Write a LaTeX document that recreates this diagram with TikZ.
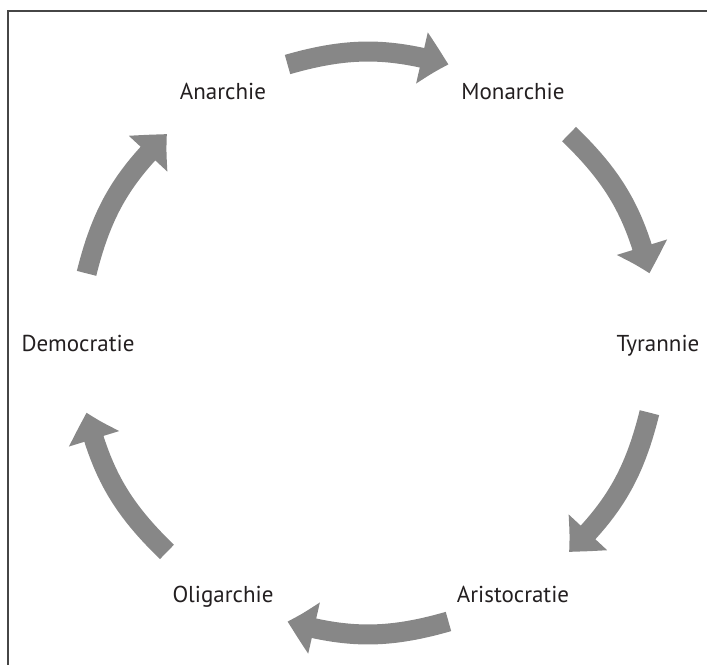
\documentclass[tikz,border=0pt]{standalone}
\usepackage{fontspec}
\setmainfont{PT Sans}
\usetikzlibrary{arrows.meta, bending}
\definecolor{cyclegray}{RGB}{135,135,135}
\definecolor{textgray}{RGB}{35,31,32}
\definecolor{framegray}{RGB}{70,70,70}
\tikzstyle{regime}=[text=textgray, font=\fontsize{23}{28}\selectfont, inner sep=0pt, text height=16pt, text depth=0pt]
\tikzstyle{turn}=[cyclegray, line width=20pt, -{Triangle[bend,width=50pt,length=28pt]}, bend left=16]

\begin{document}
\begin{tikzpicture}[x=1pt, y=1pt]
  \useasboundingbox (-368,-322) rectangle (339,343);
  \draw[framegray, line width=2pt] (339,332.5) -| (-360,-322);

  \node[regime] (ana) at (120:290) {Anarchie};
  \node[regime] (mon) at (60:290) {Monarchie};
  \node[regime] (tyr) at (0:290) {Tyrannie};
  \node[regime] (ari) at (-60:290) {Aristocratie};
  \node[regime] (oli) at (-120:290) {Oligarchie};
  \node[regime] (dem) at (180:290) {Democratie};

  \foreach \from/\to in {ana/mon, mon/tyr, tyr/ari, ari/oli, oli/dem, dem/ana} {
    \path (\from.center) to[bend left=30, looseness=0.91]
      coordinate[pos=.23] (\from-tail) coordinate[pos=.77] (\from-head) (\to.center);
    \draw[turn] (\from-tail) to (\from-head);
  }
\end{tikzpicture}
\end{document}
